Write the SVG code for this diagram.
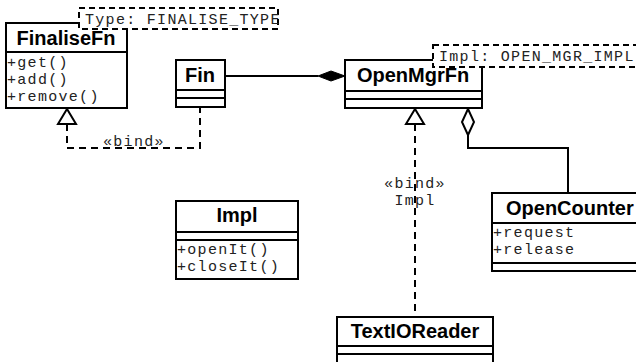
<svg xmlns="http://www.w3.org/2000/svg" width="636" height="362" viewBox="0 0 636 362">
<style>
.box{fill:#fff;stroke:#000;stroke-width:2}
.ln{fill:none;stroke:#000;stroke-width:2}
.dash{fill:none;stroke:#000;stroke-width:2;stroke-dasharray:7,5}
.note{fill:#fff;stroke:#000;stroke-width:2;stroke-dasharray:6,4}
.t{font-family:"Liberation Sans",Arial,sans-serif;font-weight:bold;font-size:20px;fill:#000}
.m{font-family:"Liberation Mono","Courier New",monospace;font-size:15px;letter-spacing:1.3px;fill:#222}
</style>
<rect width="636" height="362" fill="#fff"/>
<g id="connectors">
<path class="dash" d="M67,124 V148 H200 V108"/>
<polygon class="ln" points="67,109 58,124 76,124" fill="#fff"/>
<text class="m" x="103" y="146">«bind»</text>
<line class="ln" x1="225" y1="76" x2="318" y2="76"/>
<polygon points="318,76 331,71 345,76 331,81" fill="#000" stroke="#000" stroke-width="1"/>
<path class="dash" d="M415,124 V318"/>
<polygon class="ln" points="415,109 406,124 424,124" fill="#fff"/>
<text class="m" x="415" y="188" text-anchor="middle">«bind»</text>
<text class="m" x="415" y="205" text-anchor="middle">Impl</text>
<polygon class="ln" points="468,109 462,122 468,135 474,122" fill="#fff"/>
<path class="ln" d="M468,135 V148 H568 V193"/>
</g>
<g id="FinaliseFn">
<rect class="box" x="6" y="23" width="121" height="85"/>
<line class="ln" x1="6" y1="52" x2="127" y2="52"/>
<text class="t" x="66" y="45" text-anchor="middle">FinaliseFn</text>
<text class="m" x="7" y="67">+get()</text>
<text class="m" x="7" y="84">+add()</text>
<text class="m" x="7" y="101">+remove()</text>
</g>
<g id="TypeNote">
<rect class="note" x="79" y="8" width="199" height="21"/>
<text class="m" x="85" y="24">Type: FINALISE_TYPE</text>
</g>
<g id="Fin">
<rect class="box" x="176" y="60" width="49" height="47"/>
<line class="ln" x1="176" y1="90" x2="225" y2="90"/>
<line class="ln" x1="176" y1="98" x2="225" y2="98"/>
<text class="t" x="200" y="82" text-anchor="middle">Fin</text>
</g>
<g id="OpenMgrFn">
<rect class="box" x="345" y="60" width="137" height="48"/>
<line class="ln" x1="345" y1="91" x2="482" y2="91"/>
<line class="ln" x1="345" y1="99" x2="482" y2="99"/>
<text class="t" x="413" y="82" text-anchor="middle">OpenMgrFn</text>
</g>
<g id="ImplNote">
<rect class="note" x="433" y="45" width="210" height="22"/>
<text class="m" x="439" y="61">Impl: OPEN_MGR_IMPL</text>
</g>
<g id="Impl">
<rect class="box" x="176" y="201" width="122" height="78"/>
<line class="ln" x1="176" y1="232" x2="298" y2="232"/>
<line class="ln" x1="176" y1="240" x2="298" y2="240"/>
<text class="t" x="237" y="222" text-anchor="middle">Impl</text>
<text class="m" x="177" y="254">+openIt()</text>
<text class="m" x="177" y="271">+closeIt()</text>
</g>
<g id="OpenCounter">
<rect class="box" x="492" y="193" width="160" height="78"/>
<line class="ln" x1="492" y1="223" x2="652" y2="223"/>
<line class="ln" x1="492" y1="263" x2="652" y2="263"/>
<text class="t" x="506" y="215">OpenCounter</text>
<text class="m" x="493" y="237">+request</text>
<text class="m" x="493" y="254">+release</text>
</g>
<g id="TextIOReader">
<rect class="box" x="337" y="317" width="156" height="60"/>
<line class="ln" x1="337" y1="346" x2="493" y2="346"/>
<line class="ln" x1="337" y1="354" x2="493" y2="354"/>
<text class="t" x="415" y="338" text-anchor="middle">TextIOReader</text>
</g>
</svg>
